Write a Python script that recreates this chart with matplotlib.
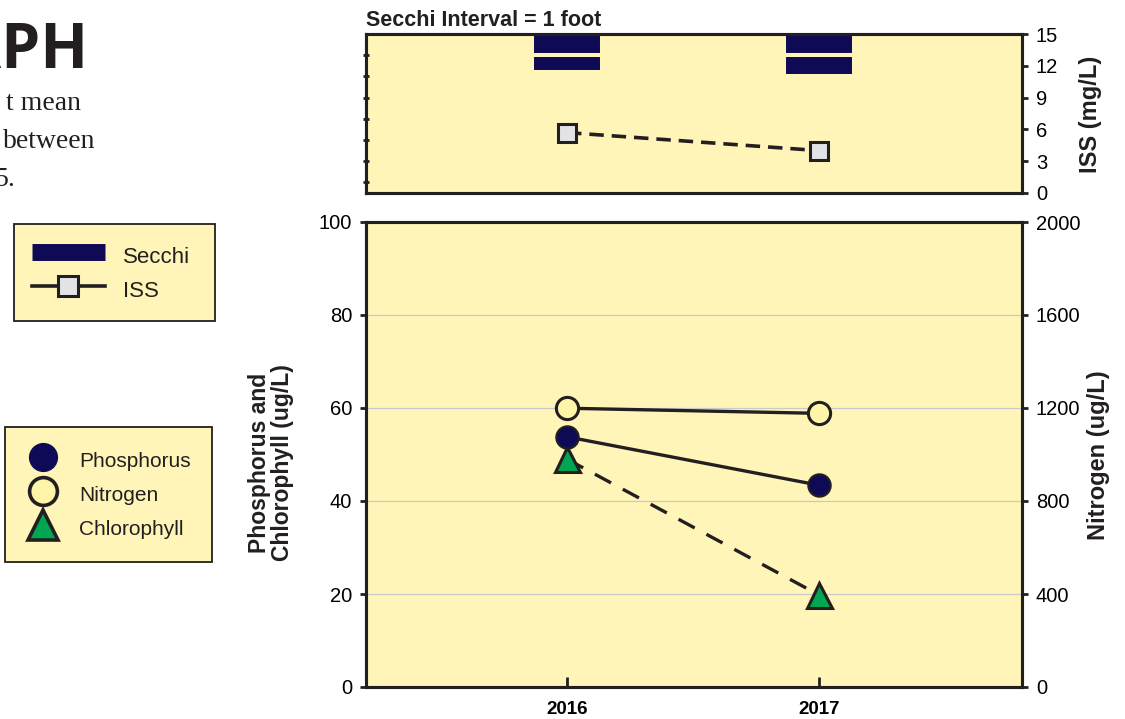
import numpy as np
import matplotlib
matplotlib.use("Agg")
import matplotlib.pyplot as plt
from matplotlib.lines import Line2D

# ---------------- data ----------------
years = [2016, 2017]
secchi_ft = [1.8, 2.0]          # Secchi depth (feet), drawn as 1-ft segments from top
iss = [5.7, 4.0]                # ISS (mg/L)
phosphorus = [53.8, 43.4]       # ug/L (left axis)
chlorophyll = [49.0, 19.8]      # ug/L (left axis)
nitrogen = [1199, 1177]         # ug/L (right axis)

left_ticks = [0, 20, 40, 60, 80, 100]
right_ticks = [0, 400, 800, 1200, 1600, 2000]
iss_ticks = [0, 3, 6, 9, 12, 15]
secchi_ticks = [1, 2, 3, 4, 5, 6, 7]

# ---------------- style ----------------
W, H = 1125, 719
BG = "#FFF5B8"
INK = "#231F20"
NAVY = "#0F0A55"
GREEN = "#00A651"
SQUARE = "#E2E3E5"
NYELLOW = "#FFF5A8"
GRID = "#C9C9C9"
plt.rcParams["font.family"] = ["Liberation Sans", "DejaVu Sans"]
plt.rcParams["text.color"] = INK

fig = plt.figure(figsize=(W / 100, H / 100), dpi=100)
fig.patch.set_facecolor("white")

def fx(px):
    return px / W

def fy(py):
    return 1 - py / H

XLIM = (2015.202, 2017.806)
SPINE_LW = 2.2
TICK_FS = 14.5

# ---------------- bottom panel ----------------
ax = fig.add_axes([fx(366), fy(687), fx(1022 - 366), (687 - 222) / H])
ax.set_facecolor(BG)
ax.set_xlim(*XLIM)
ax.set_ylim(0, 100)
ax.set_yticks(left_ticks)
ax.set_xticks(years)
ax.set_xticklabels([str(y) for y in years], fontsize=13.5, fontweight="bold")
ax.tick_params(axis="x", direction="in", length=7, width=2, color=INK, pad=10)
ax.tick_params(axis="y", direction="out", length=4, width=2, color=INK, labelsize=TICK_FS, pad=6)
ax.grid(axis="y", color=GRID, lw=0.9)
ax.set_axisbelow(True)
for s in ax.spines.values():
    s.set_linewidth(SPINE_LW)
    s.set_color(INK)

ax.plot(years, chlorophyll, color=INK, lw=2.4, ls=(0, (5.5, 4)), zorder=3)
ax.plot(years, chlorophyll, ls="none", marker="^", ms=18, mfc=GREEN, mec=INK, mew=2.2, zorder=4)
ax.plot(years, phosphorus, color=INK, lw=2.4, marker="o", ms=16, mfc=NAVY, mec=INK, mew=1.6, zorder=5)

ax2 = ax.twinx()
ax2.set_ylim(0, 2000)
ax2.set_yticks(right_ticks)
ax2.tick_params(axis="y", direction="out", length=4, width=2, color=INK, labelsize=TICK_FS, pad=6)
for s in ax2.spines.values():
    s.set_linewidth(SPINE_LW)
    s.set_color(INK)
ax2.plot(years, nitrogen, color=INK, lw=2.4, marker="o", ms=16, mfc=NYELLOW, mec=INK, mew=2.2, zorder=5)

# ---------------- top panel ----------------
at = fig.add_axes([fx(366), fy(193), fx(1022 - 366), (193 - 34) / H])
at.set_facecolor(BG)
at.set_xlim(*XLIM)
at.set_ylim(7.5, 0)
at.set_xticks([])
at.set_yticks(secchi_ticks)
at.set_yticklabels([])
at.tick_params(axis="y", direction="inout", length=5, width=2, color=INK)
for s in at.spines.values():
    s.set_linewidth(SPINE_LW)
    s.set_color(INK)

for x, d in zip(years, secchi_ft):
    k = 0
    while k < d:
        h = min(1.0, d - k)
        at.bar(x, h, bottom=k, width=0.278, color=NAVY, edgecolor=BG, linewidth=2.9, zorder=2)
        k += 1

at2 = at.twinx()
at2.set_ylim(0, 15)
at2.set_yticks(iss_ticks)
at2.tick_params(axis="y", direction="out", length=4, width=2, color=INK, labelsize=TICK_FS, pad=6)
for s in at2.spines.values():
    s.set_linewidth(SPINE_LW)
    s.set_color(INK)
at2.plot(years, iss, color=INK, lw=2.6, ls=(0, (4, 2.2)), marker="s", ms=13, mfc=SQUARE, mec=INK, mew=2.2, zorder=4)

# ---------------- labels ----------------
fig.text(fx(366), fy(20), "Secchi Interval = 1 foot", fontsize=15.5, fontweight="bold", ha="left", va="center")
fig.text(fx(1091), fy(114), "ISS (mg/L)", fontsize=17, fontweight="bold", rotation=90, ha="center", va="center")
fig.text(fx(1099), fy(455), "Nitrogen (ug/L)", fontsize=17, fontweight="bold", rotation=90, ha="center", va="center")
fig.text(fx(271), fy(463), "Phosphorus and\nChlorophyll (ug/L)", fontsize=16.5, fontweight="bold",
         rotation=90, ha="center", va="center", linespacing=1.05, multialignment="center")

# page fragments on the left
fig.text(fx(88), fy(52), "APH", fontsize=45, fontweight="bold", family=["Open Sans", "DejaVu Sans"],
         ha="right", va="center", color=INK)
fig.text(fx(81), fy(103), "t mean", fontsize=20, family=["Liberation Serif"], ha="right", va="center", color=INK)
fig.text(fx(95), fy(141), "between", fontsize=20, family=["Liberation Serif"], ha="right", va="center", color=INK)
fig.text(fx(15), fy(180), "5.", fontsize=20, family=["Liberation Serif"], ha="right", va="center", color=INK)

# ---------------- legends ----------------
h_secchi = Line2D([], [], color=NAVY, lw=12.2, solid_capstyle="butt")
h_iss = Line2D([], [], color=INK, lw=2.6, marker="s", ms=15, mfc=SQUARE, mec=INK, mew=2.2)
leg1 = fig.legend([h_secchi, h_iss], ["Secchi", "ISS"], loc="upper left",
                  bbox_to_anchor=(fx(14), fy(318), fx(215 - 14), (318 - 224) / H),
                  mode="expand", fontsize=16, handlelength=3.3, handleheight=1.49, labelspacing=0.32,
                  handletextpad=0.8, borderpad=0.8, borderaxespad=0, fancybox=False,
                  framealpha=1, facecolor=BG, edgecolor=INK)
leg1.get_frame().set_linewidth(1.3)

h_p = Line2D([], [], ls="none", marker="o", ms=20, mfc=NAVY, mec=NAVY, mew=1)
h_n = Line2D([], [], ls="none", marker="o", ms=20, mfc=NYELLOW, mec=INK, mew=2.6)
h_c = Line2D([], [], ls="none", marker="^", ms=21, mfc=GREEN, mec=INK, mew=2.6)
leg2 = fig.legend([h_p, h_n, h_c], ["Phosphorus", "Nitrogen", "Chlorophyll"], loc="upper left",
                  bbox_to_anchor=(fx(5), fy(558), fx(212 - 5), (558 - 427) / H),
                  mode="expand", fontsize=15, handlelength=1.73, handleheight=1.63, labelspacing=0.33,
                  handletextpad=0.88, borderpad=0.95, borderaxespad=0, fancybox=False,
                  framealpha=1, facecolor=BG, edgecolor=INK)
leg2.get_frame().set_linewidth(1.3)

fig.savefig("out.png", dpi=100, facecolor="white")
